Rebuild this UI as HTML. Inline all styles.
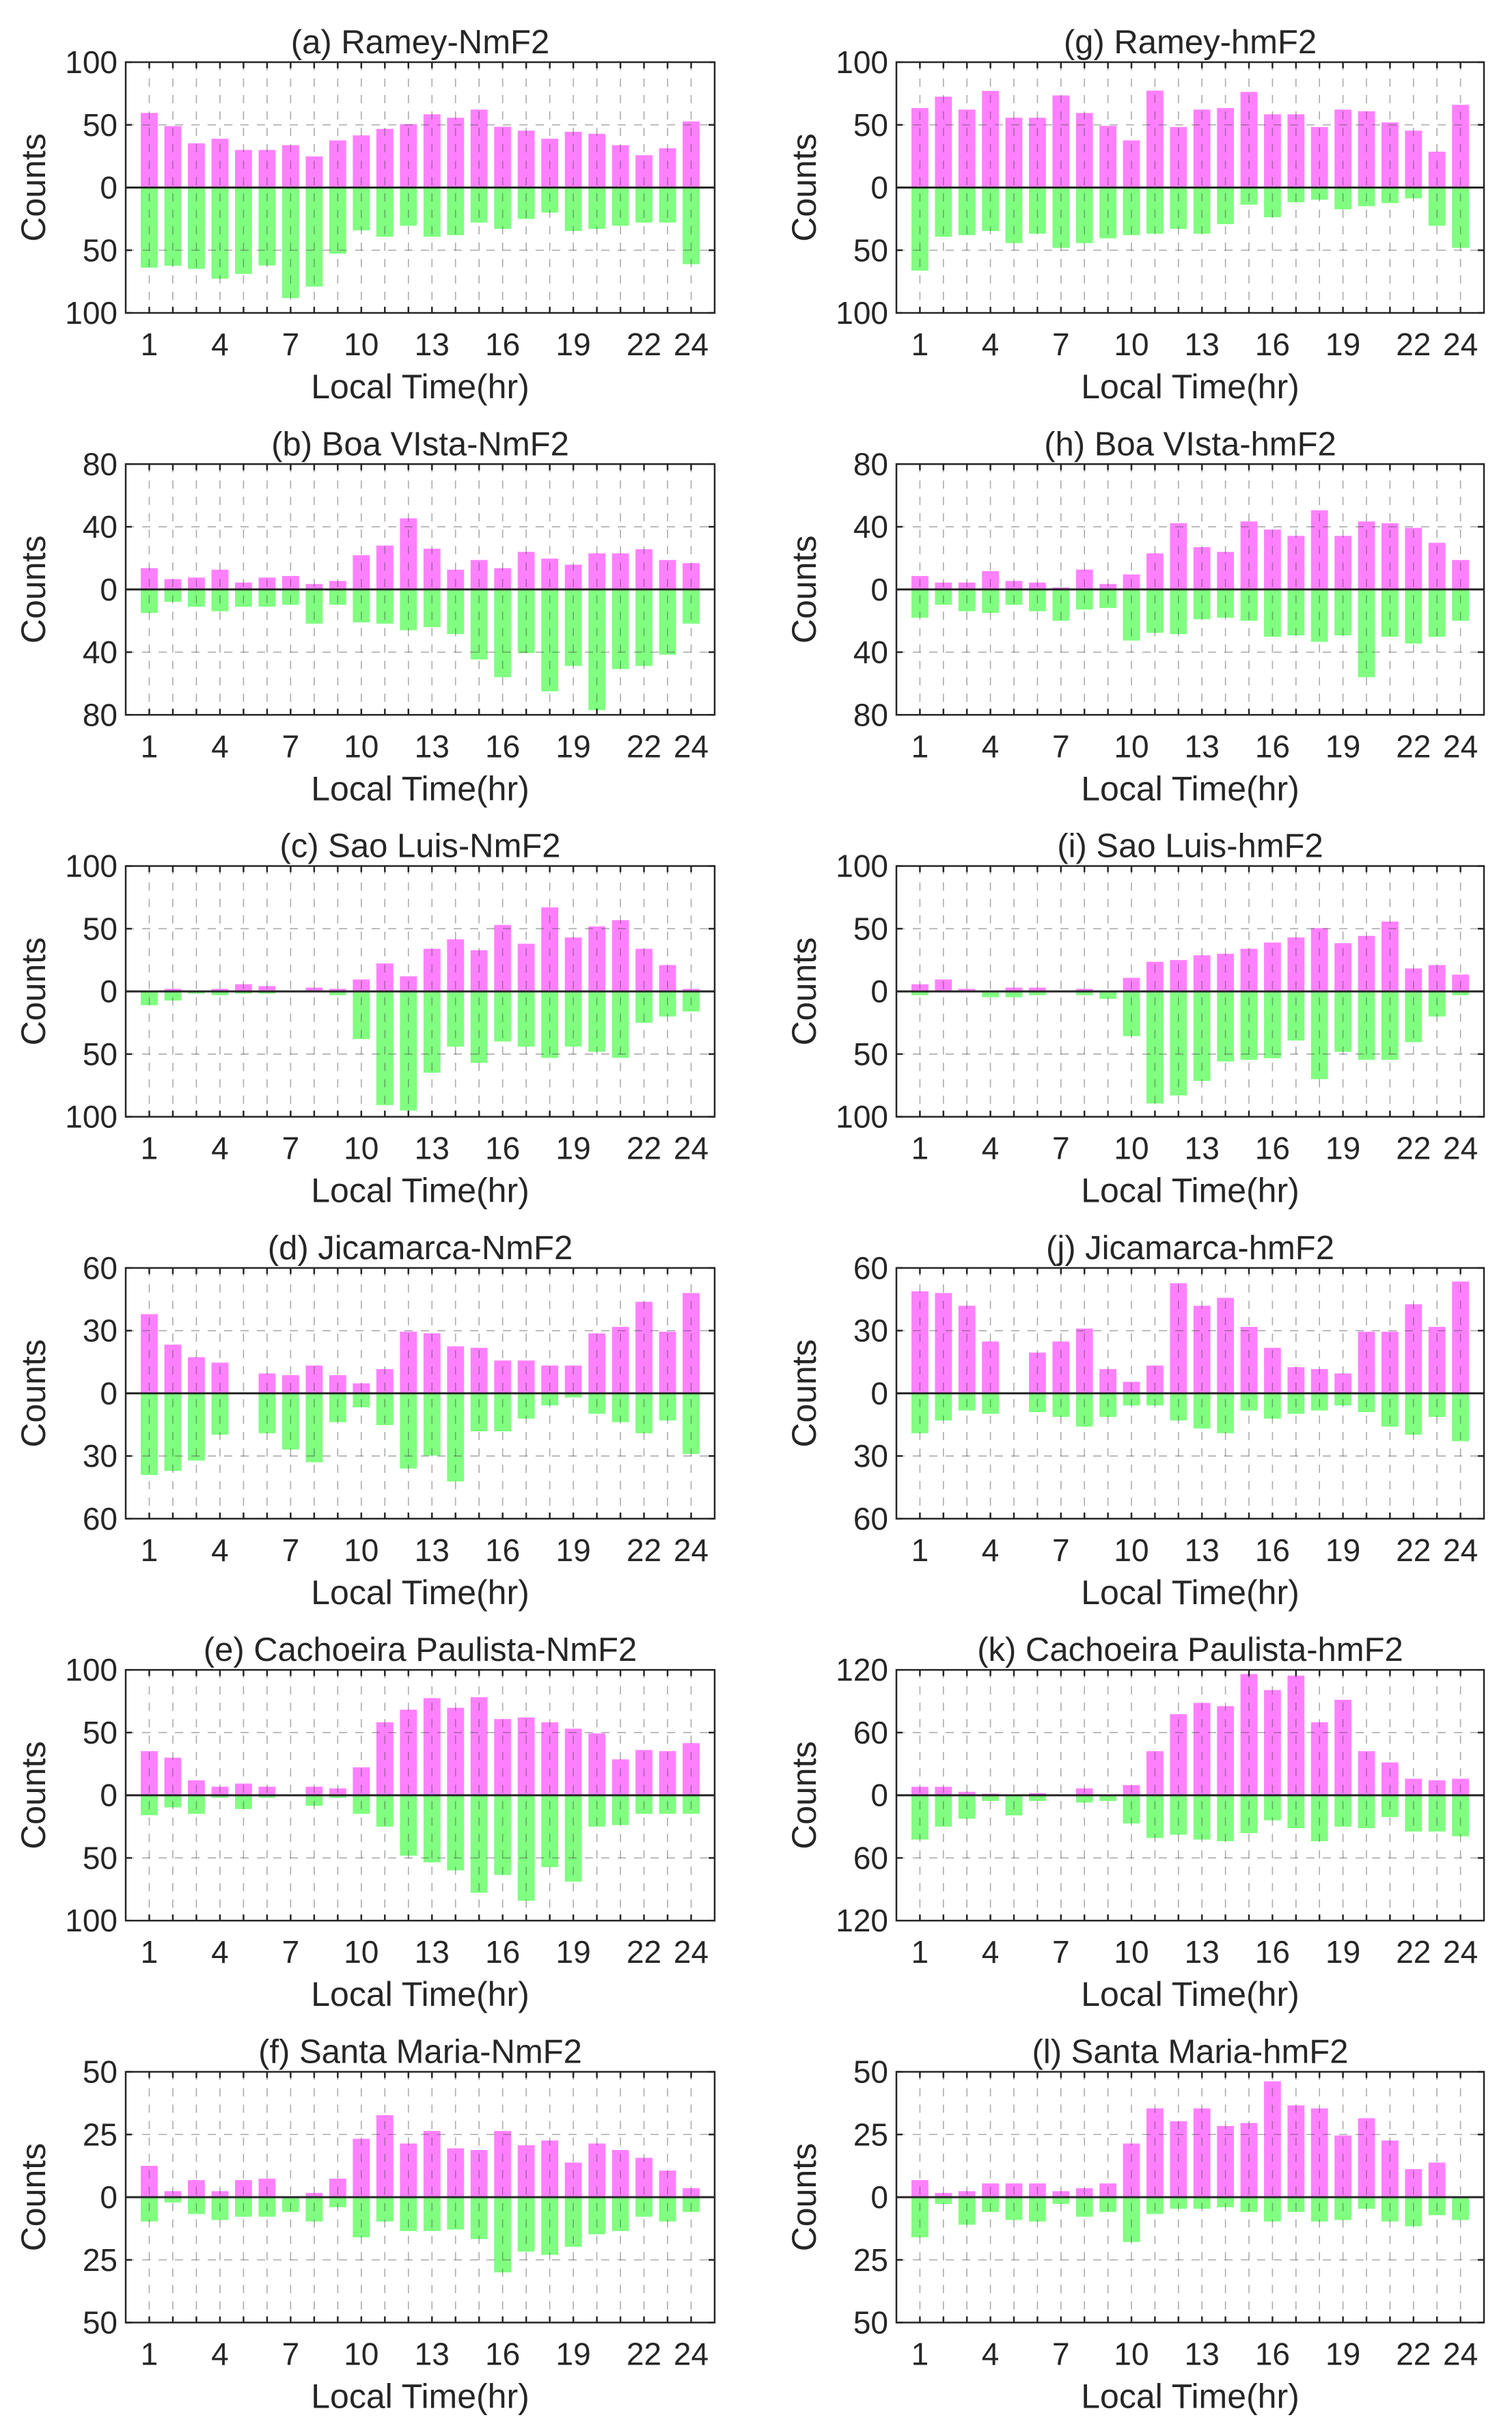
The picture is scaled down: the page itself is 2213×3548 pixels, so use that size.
<!DOCTYPE html>
<html>
<head>
<meta charset="utf-8">
<style>
  html, body { margin: 0; padding: 0; background: #fff; }
  svg { display: block; }
  text { font-family: "Liberation Sans", Arial, sans-serif; fill: #262626; }
</style>
</head>
<body>
<svg id="fig" width="2213" height="3548" viewBox="0 0 2213 3548" xmlns="http://www.w3.org/2000/svg"></svg>
<script>
// ---- Data: hourly counts, upward (magenta) and downward (green) ----
const hours = [1,2,3,4,5,6,7,8,9,10,11,12,13,14,15,16,17,18,19,20,21,22,23,24];
const xTickLabels = [1,4,7,10,13,16,19,22,24];

const upA = [59.5,49,35.3,38.9,30,30,33.8,24.8,37.6,41.6,46.8,50.6,58.4,55.7,62.2,48.5,45.4,38.9,44.5,42.9,33.8,25.8,31.3,52.7];
const downA = [63.9,62.4,64.9,72.7,68.9,62.2,88.2,79,52.7,34.2,39.3,30.5,39.3,38,27.9,33,25,20,34.7,33,30.5,27.9,27.9,61.1];
const upB = [13.6,6.6,7.6,12.6,4.4,7.6,8.6,3.5,5.4,21.9,28,45.4,26,12.6,18.8,13.6,24,19.7,15.8,23,23,25.7,18.8,16.8];
const downB = [15,7.9,11,13.9,11,11,9.8,21.8,9.8,21,21.8,26,24,28.5,44.7,56,40.6,65,48.8,77,50.8,48.8,41.6,21.8];
const upC = [0,2,0,2,5.7,4.2,0,3,2,9.5,22.3,12,34,41.6,32.8,53,38,67,43,51.8,56.8,34,21,2];
const downC = [11,7.3,1.8,3,1.8,1.8,0,0,3,38,90.7,95,64.8,44,57,40,44,53,44,48.2,53,25,20,16];
const upD = [37.9,23.3,17.3,14.7,0,9.5,8.7,13.3,8.7,4.8,11.6,29.5,28.7,22.5,21.8,15.7,15.7,13.3,13.3,28.7,31.8,43.8,29.5,48];
const downD = [39.1,37.1,32.2,19.8,0,19.1,26.9,33,13.8,6.7,15.2,36,29.8,42.2,18.2,18.2,12.1,5.8,2,9.8,13.8,19.1,13,29];
const upE = [35.2,30,11.9,6.8,9.3,6.8,0,6.8,5.5,22.3,58.2,68.3,77.5,69.8,78.2,60.8,62,58.2,53.1,49.3,28.6,36.1,35.2,41.6];
const downE = [15.9,9.7,14.8,2,11,2,0,8.4,2,14.8,25.1,48.2,53.5,59.9,77.8,63.6,84.2,57.3,68.9,25.1,23.8,14.8,14.8,14.8];
const upF = [12.5,2.4,6.8,2.4,6.8,7.4,0,1.7,7.4,23.3,32.7,21.4,26.4,19.5,18.8,26.4,20.7,22.6,13.8,21.4,18.8,15.7,10.6,3.6];
const downF = [9.7,2.1,6.7,9.1,7.8,7.8,5.9,9.7,4,16,9.7,13.5,13.5,12.9,16.7,30,21.7,23,19.8,14.8,13.5,7.8,9.7,5.9];
const upG = [63.4,72.5,62.2,77.1,55.7,55.7,73.5,59.5,49.2,37.6,77.3,48.3,62.2,63.4,76.3,58.4,58.4,48.3,62.2,60.9,51.9,45.4,28.6,66];
const downG = [66.2,39.3,38,34.7,44.3,36.8,48.1,44.3,40.5,38,36.8,33,36.8,29.2,13.7,23.7,11.8,9.7,17.4,14.9,12.4,8.6,30.5,48.1];
const upH = [8.6,4.4,4.4,11.7,5.4,4.4,1.3,12.7,3.5,9.6,23,42.3,27,24,43.4,38.2,34.2,50.5,34.2,43.4,42.3,39.3,29.8,18.8];
const downH = [18,9.8,13.9,15,9.8,13.9,20,12.8,11.8,32.6,27.7,28.5,19,18,20,30.2,29.3,33.4,29.3,56,30.2,34.5,30.2,20];
const upI = [5.7,9.5,2,0,3,3,0,2,0,10.8,23.6,25,28.8,30,34,39,43,50.5,38.5,44.3,55.7,18.3,21,13.4];
const downI = [3,0,0,4.6,4.6,3,0,3,5.9,35.7,89.4,83,71.4,55.9,54.6,53.3,39.2,70,48.2,54.6,54.6,40.5,20,3];
const upJ = [48.8,48,41.9,24.8,0,19.5,24.8,31,11.6,5.5,13.3,52.7,41.9,45.7,31.8,21.8,12.5,11.6,9.5,29.5,29.5,42.6,31.8,53.5];
const downJ = [19.1,13,8.2,9.8,0,9,11.3,15.9,11.3,5.8,5.8,13,16.8,19.1,8.2,12.1,9.8,8.2,5.8,9,15.9,19.8,11.3,22.9];
const upK = [8.1,8.1,3.3,1.5,0,2,0,6.6,0,9.7,42.2,77.6,88.4,85.3,116,100.7,114.5,69.9,91.4,42.2,31.4,15.8,14.3,15.8];
const downK = [42.4,30.1,22.4,5.5,19.3,5.5,0,7,5.5,27,40.9,37.8,42.4,44,36.3,24,31.6,44,30.1,31.6,20.9,34.7,34.7,39.3];
const upL = [6.8,1.7,2.4,5.5,5.5,5.5,2.4,3.6,5.5,21.4,35.4,30.3,35.4,28.4,29.6,46.2,36.6,35.4,24.6,31.5,22.6,11.2,13.8,0.2];
const downL = [16,2.7,11,5.9,9.1,9.7,2.7,7.8,5.9,17.9,6.7,4.6,4.6,4,5.9,9.7,5.9,9.7,9.1,4.6,9.7,11.6,7.2,9.1];

const yTicks100 = [-100,-50,0,50,100];
const yTicks80 = [-80,-40,0,40,80];
const yTicks60 = [-60,-30,0,30,60];
const yTicks120 = [-120,-60,0,60,120];
const yTicks50 = [-50,-25,0,25,50];

const panels = [
  {id:'a', title:'(a) Ramey-NmF2', col:0, row:0, up:upA, down:downA, ymax:100, ticks:yTicks100},
  {id:'b', title:'(b) Boa VIsta-NmF2', col:0, row:1, up:upB, down:downB, ymax:80, ticks:yTicks80},
  {id:'c', title:'(c) Sao Luis-NmF2', col:0, row:2, up:upC, down:downC, ymax:100, ticks:yTicks100},
  {id:'d', title:'(d) Jicamarca-NmF2', col:0, row:3, up:upD, down:downD, ymax:60, ticks:yTicks60},
  {id:'e', title:'(e) Cachoeira Paulista-NmF2', col:0, row:4, up:upE, down:downE, ymax:100, ticks:yTicks100},
  {id:'f', title:'(f) Santa Maria-NmF2', col:0, row:5, up:upF, down:downF, ymax:50, ticks:yTicks50},
  {id:'g', title:'(g) Ramey-hmF2', col:1, row:0, up:upG, down:downG, ymax:100, ticks:yTicks100},
  {id:'h', title:'(h) Boa VIsta-hmF2', col:1, row:1, up:upH, down:downH, ymax:80, ticks:yTicks80},
  {id:'i', title:'(i) Sao Luis-hmF2', col:1, row:2, up:upI, down:downI, ymax:100, ticks:yTicks100},
  {id:'j', title:'(j) Jicamarca-hmF2', col:1, row:3, up:upJ, down:downJ, ymax:60, ticks:yTicks60},
  {id:'k', title:'(k) Cachoeira Paulista-hmF2', col:1, row:4, up:upK, down:downK, ymax:120, ticks:yTicks120},
  {id:'l', title:'(l) Santa Maria-hmF2', col:1, row:5, up:upL, down:downL, ymax:50, ticks:yTicks50}
];

const NS = 'http://www.w3.org/2000/svg';
const svg = document.getElementById('fig');
function mk(tag, attrs, parent) {
  const e = document.createElementNS(NS, tag);
  for (const k in attrs) e.setAttribute(k, attrs[k]);
  parent.appendChild(e);
  return e;
}

const colLeft = [184, 1312];
const colRight = [1046, 2172];
const rowTop0 = 91, rowPitch = 588.3, axH = 367;
const barW = 0.72;

panels.forEach(p => {
  const L = colLeft[p.col], R = colRight[p.col];
  const T = rowTop0 + p.row * rowPitch, B = T + axH;
  const xs = v => L + (v / 25) * (R - L);
  const ys = v => T + (p.ymax - v) / (2 * p.ymax) * (B - T);

  const g = mk('g', {}, svg);
  
  

  mk('rect', {x:L, y:T, width:R-L, height:B-T, fill:'#fff'}, g);

  hours.forEach((h, i) => {
    const u = p.up[i], d = p.down[i];
    if (u > 0) {
      const r = mk('rect', {x:xs(h - barW/2), y:ys(u), width:xs(barW)-xs(0), height:ys(0)-ys(u), fill:'#ff80ff'}, g);
      
      
    }
    if (d > 0) {
      const r = mk('rect', {x:xs(h - barW/2), y:ys(0), width:xs(barW)-xs(0), height:ys(-d)-ys(0), fill:'#80ff80'}, g);
      
      
    }
  });

  hours.forEach(h => {
    mk('line', {x1:xs(h), x2:xs(h), y1:T, y2:B, stroke:'#444', 'stroke-width':1.6, 'stroke-dasharray':'12,12', 'stroke-opacity':0.45}, g);
  });
  p.ticks.forEach(t => {
    if (t !== 0 && Math.abs(t) !== p.ymax) {
      mk('line', {x1:L, x2:R, y1:ys(t), y2:ys(t), stroke:'#444', 'stroke-width':1.6, 'stroke-dasharray':'12,12', 'stroke-opacity':0.45}, g);
    }
  });
  mk('line', {x1:L, x2:R, y1:ys(0), y2:ys(0), stroke:'#262626', 'stroke-width':3}, g);

  hours.forEach(h => {
    mk('line', {x1:xs(h), x2:xs(h), y1:B, y2:B-9, stroke:'#262626', 'stroke-width':2.5}, g);
    mk('line', {x1:xs(h), x2:xs(h), y1:T, y2:T+9, stroke:'#262626', 'stroke-width':2.5}, g);
  });
  p.ticks.forEach(t => {
    mk('line', {x1:L, x2:L+9, y1:ys(t), y2:ys(t), stroke:'#262626', 'stroke-width':2.5}, g);
    mk('line', {x1:R, x2:R-9, y1:ys(t), y2:ys(t), stroke:'#262626', 'stroke-width':2.5}, g);
  });

  mk('rect', {x:L, y:T, width:R-L, height:B-T, fill:'none', stroke:'#262626', 'stroke-width':2.5}, g);

  p.ticks.forEach(t => {
    const tx = mk('text', {x:L-12, y:ys(t)+16, 'text-anchor':'end', 'font-size':46}, g);
    tx.textContent = Math.abs(t);
    
    
  });
  xTickLabels.forEach(v => {
    const tx = mk('text', {x:xs(v), y:B+62, 'text-anchor':'middle', 'font-size':46}, g);
    tx.textContent = v;
    
    
  });
  const title = mk('text', {x:(L+R)/2, y:T-13, 'text-anchor':'middle', 'font-size':49}, g);
  title.textContent = p.title;
  
  
  const xl = mk('text', {x:(L+R)/2, y:B+125, 'text-anchor':'middle', 'font-size':50}, g);
  xl.textContent = 'Local Time(hr)';
  
  
  const yx = L - 118, yy = (T + B) / 2;
  const yl = mk('text', {x:yx, y:yy, 'text-anchor':'middle', 'font-size':50, transform:'rotate(-90 ' + yx + ' ' + yy + ')'}, g);
  yl.textContent = 'Counts';
  
  
});
</script>
</body>
</html>
